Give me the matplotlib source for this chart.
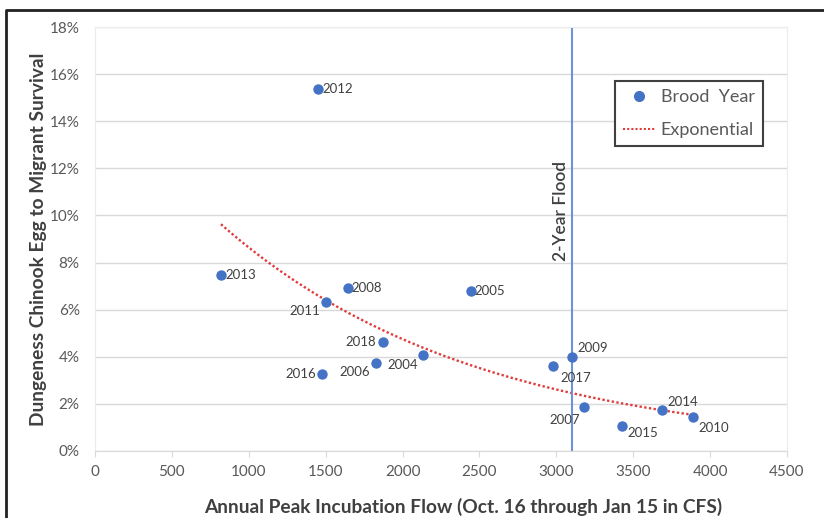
import numpy as np
import matplotlib
matplotlib.use('Agg')
import matplotlib.pyplot as plt
from matplotlib.lines import Line2D

plt.rcParams['font.family'] = ['Lato', 'DejaVu Sans']

# --- DATOS ---
anios = ['2012', '2013', '2008', '2011', '2018', '2006', '2016', '2004',
         '2005', '2017', '2009', '2007', '2015', '2014', '2010']
caudal = [1450, 819, 1643, 1502, 1875, 1825, 1474, 2130,
          2443, 2980, 3101, 3179, 3424, 3684, 3890]
supervivencia = [15.37, 7.47, 6.90, 6.34, 4.61, 3.75, 3.27, 4.07,
                 6.79, 3.59, 3.98, 1.85, 1.06, 1.74, 1.44]
CRECIDA_2_ANIOS = 3100

# posición de cada etiqueta respecto a su punto (puntos, alineación)
offsets = {
    '2012': (3, 0, 'left'), '2013': (3, 0, 'left'), '2008': (3, 0, 'left'),
    '2005': (3, 0, 'left'), '2011': (-4, -7, 'right'), '2018': (-5, 0, 'right'),
    '2016': (-4, 0, 'right'), '2006': (-4, -7, 'right'), '2004': (-3, -7, 'right'),
    '2017': (5, -8, 'left'), '2009': (4, 7, 'left'), '2007': (-3, -9, 'right'),
    '2015': (4, -5, 'left'), '2014': (4, 6, 'left'), '2010': (4, -8, 'left'),
}

AZUL = '#4472C4'
ROJO = '#E03C3C'
GRIS_TXT = '#404040'
GRIS_TICK = '#595959'
PUNTEADO = (0, (1, 1))

fig = plt.figure(figsize=(8.24, 5.18), dpi=100)
ax = fig.add_axes([95 / 824, 1 - 451 / 518, 692 / 824, 424 / 518])

# rejilla horizontal
ax.set_axisbelow(True)
ax.yaxis.grid(True, color='#d9d9d9', linewidth=1)

# línea de tendencia exponencial (ajuste por mínimos cuadrados en log)
x = np.array(caudal, dtype=float)
y = np.array(supervivencia)
b, ln_a = np.polyfit(x, np.log(y), 1)
xs = np.linspace(x.min(), x.max(), 200)
ax.plot(xs, np.exp(ln_a) * np.exp(b * xs), color=ROJO, linestyle=PUNTEADO,
        linewidth=1.7, zorder=2)

# crecida de 2 años
ax.axvline(CRECIDA_2_ANIOS, color='#6b93d6', linewidth=1.5, zorder=2)
ax.annotate('2-Year Flood', (CRECIDA_2_ANIOS, 10.2), xytext=(-2, 0),
            textcoords='offset points', rotation=90, ha='right', va='center',
            fontsize=12.5, color=GRIS_TXT, fontweight='semibold')

# puntos
ax.scatter(caudal, supervivencia, s=42, color=AZUL, zorder=3)
for anio, xi, yi in zip(anios, caudal, supervivencia):
    dx, dy, ha = offsets[anio]
    ax.annotate(anio, (xi, yi), xytext=(dx, dy), textcoords='offset points',
                ha=ha, va='center', fontsize=9.5, color=GRIS_TXT)

# ejes
ax.set_xlim(0, 4500)
ax.set_ylim(0, 18)
ax.set_xticks(np.arange(0, 4501, 500))
ax.set_yticks(np.arange(0, 19, 2))
ax.set_yticklabels([f'{v}%' for v in range(0, 19, 2)])
ax.tick_params(axis='y', length=0, pad=11, labelsize=11, labelcolor=GRIS_TICK)
ax.tick_params(axis='x', length=4, color='#d9d9d9', pad=6, labelsize=11,
               labelcolor=GRIS_TICK)
for lado in ['top', 'right', 'left']:
    ax.spines[lado].set_color('#ececec')
ax.spines['bottom'].set_color('#d9d9d9')

ax.set_xlabel('Annual Peak Incubation Flow (Oct. 16 through Jan 15 in CFS)',
              fontsize=13.8, fontweight='bold', color=GRIS_TXT, va='center')
ax.xaxis.set_label_coords(0.532, -0.132)
ax.set_ylabel('Dungeness Chinook Egg to Migrant Survival',
              fontsize=13.8, fontweight='bold', color=GRIS_TXT, va='center')
ax.yaxis.set_label_coords(-0.082, 0.5)

# leyenda
handles = [
    Line2D([], [], marker='o', linestyle='none', color=AZUL, markersize=7),
    Line2D([], [], color=ROJO, linestyle=PUNTEADO, linewidth=1.5),
]
leg = ax.legend(handles, ['Brood  Year', 'Exponential'], loc='upper right',
                bbox_to_anchor=(0.965, 0.873), fontsize=13, fancybox=False,
                framealpha=1, edgecolor=GRIS_TXT, handlelength=1.8,
                borderpad=0.45, labelspacing=0.95, handletextpad=0.3,
                borderaxespad=0)
leg.get_frame().set_linewidth(1.5)
for t in leg.get_texts():
    t.set_color(GRIS_TICK)

# marco de la figura
fig.add_artist(Line2D([6 / 824, 6 / 824, 1], [0, 1 - 10 / 518, 1 - 10 / 518],
                      transform=fig.transFigure, color='#222222', linewidth=2))

fig.savefig('out.png', dpi=100)
